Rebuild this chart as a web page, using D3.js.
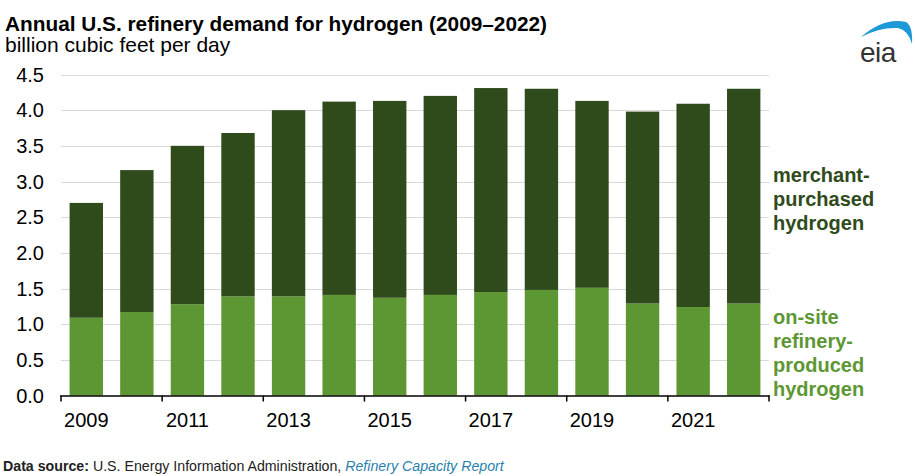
<!DOCTYPE html>
<html>
<head>
<meta charset="utf-8">
<script src="https://cdn.jsdelivr.net/npm/d3@7"></script>
<style>
  body { margin: 0; background: #fff; }
  svg { display: block; font-family: "Liberation Sans", Arial, sans-serif; }
</style>
</head>
<body>
<svg id="chart" width="915" height="476"></svg>
<script>
const years = [2009, 2010, 2011, 2012, 2013, 2014, 2015, 2016, 2017, 2018, 2019, 2020, 2021, 2022];
const onsite = [1.09, 1.17, 1.28, 1.39, 1.39, 1.41, 1.37, 1.41, 1.45, 1.48, 1.51, 1.29, 1.24, 1.29];
const totals = [2.70, 3.16, 3.50, 3.68, 4.00, 4.12, 4.13, 4.20, 4.31, 4.30, 4.13, 3.98, 4.09, 4.30];
const merchant = totals.map((t, i) => +(t - onsite[i]).toFixed(2));
const yTicks = [0, 0.5, 1.0, 1.5, 2.0, 2.5, 3.0, 3.5, 4.0, 4.5];
const xLabelYears = [2009, 2011, 2013, 2015, 2017, 2019, 2021];

const darkGreen = "#2f4b1c";
const lightGreen = "#5d9733";

const svg = d3.select("#chart");
const pLeft = 61, pRight = 769, pTop = 74.5, pBottom = 395.5;

const padIn = 0.34;
const x = d3.scaleBand().domain(years).range([pLeft, pRight]).paddingInner(padIn).paddingOuter(padIn / 2);
const y = d3.scaleLinear().domain([0, 4.5]).range([pBottom, pTop]);

// gridlines
svg.append("g").selectAll("line").data(yTicks.filter(d => d > 0)).join("line")
  .attr("x1", pLeft).attr("x2", pRight)
  .attr("y1", d => Math.round(y(d)) + 0.5).attr("y2", d => Math.round(y(d)) + 0.5)
  .attr("stroke", "#d9d9d9").attr("stroke-width", 1.2);

// y tick labels
svg.append("g").selectAll("text").data(yTicks).join("text")
  .attr("x", 44).attr("y", d => y(d)).attr("dy", "0.36em")
  .attr("text-anchor", "end").attr("font-size", 20).attr("fill", "#000")
  .text(d => d.toFixed(1));

// stacked bars
const stackData = years.map((yr, i) => ({ year: yr, onsite: onsite[i], merchant: merchant[i] }));
const series = d3.stack().keys(["onsite", "merchant"])(stackData);
const colors = { onsite: lightGreen, merchant: darkGreen };
svg.append("g").selectAll("g").data(series).join("g")
  .attr("fill", d => colors[d.key])
  .selectAll("rect").data(d => d).join("rect")
  .attr("x", d => x(d.data.year))
  .attr("width", x.bandwidth())
  .attr("y", d => y(d[1]))
  .attr("height", d => y(d[0]) - y(d[1]));

// x axis
const axisG = svg.append("g");
axisG.append("line").attr("x1", pLeft - 0.75).attr("x2", pRight + 0.75)
  .attr("y1", pBottom + 0.5).attr("y2", pBottom + 0.5).attr("stroke", "#000").attr("stroke-width", 1.5);
const boundaryPos = years.filter((d, i) => i % 2 === 0).map(d => x(d) - x.step() * padIn / 2);
boundaryPos.push(pRight);
axisG.selectAll("line.tick").data(boundaryPos).join("line")
  .attr("class", "tick")
  .attr("x1", d => d).attr("x2", d => d)
  .attr("y1", pBottom).attr("y2", pBottom + 6)
  .attr("stroke", "#000").attr("stroke-width", 1.5);
axisG.selectAll("text").data(xLabelYears).join("text")
  .attr("x", d => x(d) + x.bandwidth() / 2).attr("y", 427)
  .attr("text-anchor", "middle").attr("font-size", 20).attr("fill", "#000")
  .text(d => d);

// legend labels
const legendMerchant = ["merchant-", "purchased", "hydrogen"];
const legendOnsite = ["on-site", "refinery-", "produced", "hydrogen"];
svg.append("g").selectAll("text").data(legendMerchant).join("text")
  .attr("x", 773).attr("y", (d, i) => 182 + i * 24)
  .attr("font-size", 20).attr("font-weight", "bold").attr("fill", darkGreen).text(d => d);
svg.append("g").selectAll("text").data(legendOnsite).join("text")
  .attr("x", 773).attr("y", (d, i) => 324 + i * 24)
  .attr("font-size", 20).attr("font-weight", "bold").attr("fill", lightGreen).text(d => d);

// title
svg.append("text").attr("x", 5).attr("y", 31)
  .attr("font-size", 20.8).attr("font-weight", "bold").attr("fill", "#000")
  .text("Annual U.S. refinery demand for hydrogen (2009–2022)");
svg.append("text").attr("x", 5).attr("y", 52)
  .attr("font-size", 21).attr("fill", "#000")
  .text("billion cubic feet per day");

// source
const src = svg.append("text").attr("x", 3).attr("y", 471).attr("font-size", 14.2).attr("fill", "#222");
src.append("tspan").attr("font-weight", "bold").text("Data source: ");
src.append("tspan").text("U.S. Energy Information Administration, ");
src.append("tspan").attr("font-style", "italic").attr("fill", "#2a7fae").text("Refinery Capacity Report");

// eia logo
const logo = svg.append("g");
logo.append("path")
  .attr("d", "M861,37 Q884,17 906,22 Q913,26 912,44 Q908,30 898,28 Q880,27 861,37 Z")
  .attr("fill", "#1d9ad6");
logo.append("text").attr("x", 860).attr("y", 62).attr("font-size", 28).attr("fill", "#333")
  .attr("letter-spacing", -0.5).text("eia");
</script>
</body>
</html>
